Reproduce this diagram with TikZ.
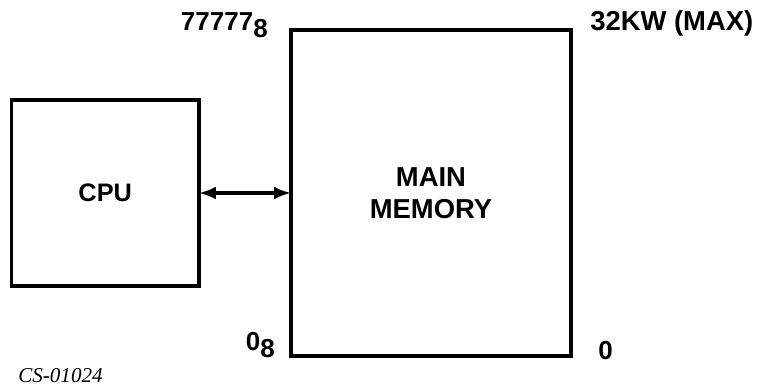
\documentclass[tikz,border=0pt]{standalone}
\usepackage{fontspec}
\setmainfont{Liberation Sans}
\newfontfamily\capfont{Liberation Serif}
\usetikzlibrary{arrows.meta}

\begin{document}
\begin{tikzpicture}[>={Latex[length=4.2mm,width=3.2mm]},
    blockbox/.style={draw, line width=2.6pt, inner sep=0pt, align=center,
                     font=\fontsize{19.5}{22.5}\selectfont\bfseries},
    addrlabel/.style={inner sep=0pt, font=\fontsize{18.5}{21}\selectfont\bfseries}]
                \useasboundingbox (0,0) rectangle (19,9.775);

                \node[blockbox, minimum width=4.69cm, minimum height=4.66cm, font=\fontsize{18}{21}\selectfont\bfseries] (cpu) at (2.63,4.95) {CPU};
                \node[blockbox, minimum width=7.0cm, minimum height=8.15cm] (mem) at (10.775,4.95) {MAIN\\MEMORY};

                \draw[<->, line width=2.2pt, shorten <=-1.3pt, shorten >=-1.3pt] (cpu.east) -- (mem.west);

                \node[addrlabel, anchor=base east] (top) at (6.7,9.025) {77777\raisebox{-0.3em}{8}};
                \node[addrlabel, anchor=base east] (bot) at (6.875,1.025) {0\raisebox{-0.3em}{8}};
                \node[addrlabel, anchor=base west] (zero) at (14.95,0.8) {0};
                \node[inner sep=0pt, anchor=base west, font=\fontsize{19.5}{22}\selectfont\bfseries] (size) at (14.75,9.025) {32KW (MAX)};

                \node[inner sep=0pt, anchor=base west, font=\fontsize{15}{18}\selectfont\capfont\itshape] (fig) at (0.45,0.225) {CS-01024};
\end{tikzpicture}
\end{document}
